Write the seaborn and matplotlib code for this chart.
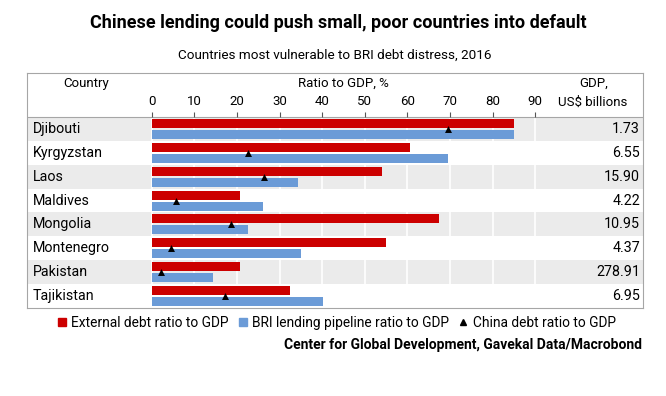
import matplotlib
matplotlib.use("Agg")
from matplotlib import pyplot as plt
from matplotlib.lines import Line2D
import pandas as pd
import seaborn as sns
import numpy as np

# data
countries = ["Djibouti", "Kyrgyzstan", "Laos", "Maldives", "Mongolia",
             "Montenegro", "Pakistan", "Tajikistan"]
external_debt = [85.0, 60.6, 54.1, 20.8, 67.4, 55.0, 20.8, 32.4]
bri_pipeline = [85.0, 69.6, 34.4, 26.2, 22.5, 35.1, 14.4, 40.3]
china_debt = [69.5, 22.6, 26.3, 5.7, 18.7, 4.5, 2.2, 17.2]
gdp_bn = [1.73, 6.55, 15.90, 4.22, 10.95, 4.37, 278.91, 6.95]
x_ticks = [0, 10, 20, 30, 40, 50, 60, 70, 80, 90]

series_names = ["External debt ratio to GDP", "BRI lending pipeline ratio to GDP"]
china_name = "China debt ratio to GDP"

RED = "#cc0000"
BLUE = "#6b9bd7"
ROW_GREY = "#ebebeb"
FRAME = "#a6a6a6"

sns.set_style("white")
plt.rcParams['font.family'] = ['Roboto', 'DejaVu Sans']
plt.rcParams['text.color'] = 'black'

df = pd.DataFrame({"country": countries,
                   series_names[0]: external_debt,
                   series_names[1]: bri_pipeline})
long_df = df.melt(id_vars="country", var_name="series", value_name="value")

fig = plt.figure(figsize=(6.66, 3.96), dpi=100)
ax = fig.add_axes([27 / 666, 88 / 396, 616 / 666, 235 / 396])

# pozadi radku a mrizka
for i in range(0, len(countries), 2):
    ax.axhspan(i - 0.5, i + 0.5, color=ROW_GREY, lw=0, zorder=0)
ax.vlines(x_ticks, -0.5, len(countries) - 0.5, color="white", lw=1.2, zorder=1)

sns.barplot(data=long_df, y="country", x="value", hue="series", order=countries,
            hue_order=series_names, palette=[RED, BLUE], orient="h",
            width=0.92, gap=0.18, saturation=1, legend=False, ax=ax,
            edgecolor="none", zorder=2)
sns.stripplot(x=china_debt, y=countries, order=countries, jitter=False,
              marker="^", color="black", size=5, ax=ax, zorder=5)

ax.set_xlim(-29.3, 115.3)
ax.set_ylim(len(countries) - 0.5, -2.34)
ax.set_xticks([])
ax.set_yticks([])
ax.set_xlabel("")
ax.set_ylabel("")
for s in ax.spines.values():
    s.set_color(FRAME)
    s.set_linewidth(0.8)
ax.axhline(-0.5, color=FRAME, lw=0.8)

# hlavicka tabulky
fs = 9.5
ax.text(-15.4, -1.92, "Country", ha="center", va="center", fontsize=fs)
ax.text(45, -1.92, "Ratio to GDP, %", ha="center", va="center", fontsize=fs)
ax.text(103.6, -1.92, "GDP,", ha="center", va="center", fontsize=fs)
ax.text(103.6, -1.13, "US$ billions", ha="center", va="center", fontsize=fs)
for t in x_ticks:
    ax.text(t, -1.13, str(t), ha="center", va="center", fontsize=fs)
ax.vlines(x_ticks, -0.72, -0.5, color="#555555", lw=0.8)

# popisky radku
for i, (c, g) in enumerate(zip(countries, gdp_bn)):
    ax.text(-27.9, i, c, ha="left", va="center", fontsize=10.3)
    ax.text(114.6, i, f"{g:.2f}", ha="right", va="center", fontsize=10.3)

# legenda
handles = [Line2D([], [], marker="s", ls="", color=RED, markersize=6),
           Line2D([], [], marker="s", ls="", color=BLUE, markersize=6),
           Line2D([], [], marker="^", ls="", color="black", markersize=5)]
fig.legend(handles, series_names + [china_name], loc="center",
           bbox_to_anchor=(336 / 666, 1 - 323 / 396), ncol=3, frameon=False,
           handlelength=0.8, handletextpad=0.3, columnspacing=0.6, fontsize=9.9,
           borderpad=0)

fig.text(338 / 666, 1 - 23 / 396, "Chinese lending could push small, poor countries into default",
         ha="center", va="center", fontsize=13, fontweight="bold")
fig.text(335 / 666, 1 - 55 / 396, "Countries most vulnerable to BRI debt distress, 2016",
         ha="center", va="center", fontsize=9.7)
fig.text(642 / 666, 1 - 345 / 396, "Center for Global Development, Gavekal Data/Macrobond",
         ha="right", va="center", fontsize=10, fontweight="bold")

fig.savefig("out.png", dpi=100)
plt.close(fig)
